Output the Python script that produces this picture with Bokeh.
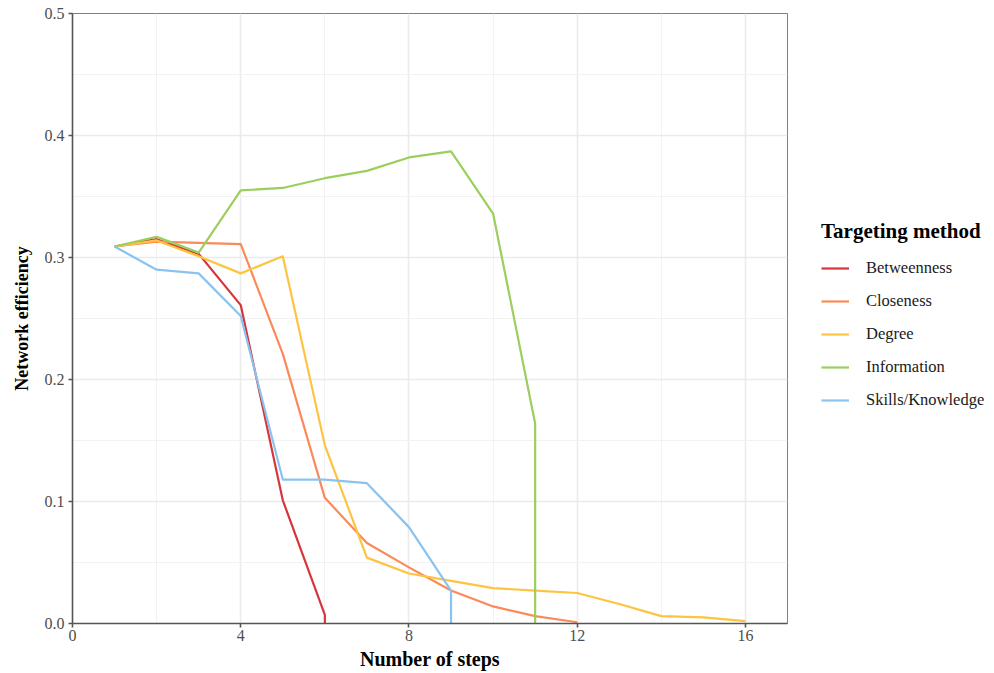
from bokeh.plotting import figure
from bokeh.layouts import row
from bokeh.models import (Range1d, FixedTicker, Legend, LegendItem,
                          PrintfTickFormatter, ColumnDataSource)
from bokeh.embed import file_html
from bokeh.resources import INLINE

# Network efficiency after each removal step, by targeting method
betweenness_steps = [1, 2, 3, 4, 5, 6, 6]
betweenness_eff = [0.309, 0.315, 0.303, 0.261, 0.101, 0.007, 0.0]

closeness_steps = [1, 2, 3, 4, 5, 6, 7, 8, 9, 10, 11, 12]
closeness_eff = [0.309, 0.313, 0.312, 0.311, 0.221, 0.103, 0.066, 0.046,
                 0.027, 0.014, 0.006, 0.001]

degree_steps = [1, 2, 3, 4, 5, 6, 7, 8, 9, 10, 11, 12, 13, 14, 15, 16]
degree_eff = [0.309, 0.314, 0.301, 0.287, 0.301, 0.146, 0.054, 0.041,
              0.035, 0.029, 0.027, 0.025, 0.016, 0.006, 0.005, 0.002]

information_steps = [1, 2, 3, 4, 5, 6, 7, 8, 9, 10, 11, 11]
information_eff = [0.309, 0.317, 0.304, 0.355, 0.357, 0.365, 0.371, 0.382,
                   0.387, 0.336, 0.164, 0.0]

skills_steps = [1, 2, 3, 4, 5, 6, 7, 8, 9, 9]
skills_eff = [0.309, 0.290, 0.287, 0.252, 0.118, 0.118, 0.115, 0.079,
              0.027, 0.0]

method_names = ["Betweenness", "Closeness", "Degree", "Information",
                "Skills/Knowledge"]
method_colors = ["#d6363b", "#fb8a5a", "#fec340", "#9bcf5c", "#8ac3ef"]

x_ticks = [0, 4, 8, 12, 16]
x_minor = [2, 6, 10, 14]
y_ticks = [0.0, 0.1, 0.2, 0.3, 0.4, 0.5]
y_minor = [0.05, 0.15, 0.25, 0.35, 0.45]

SERIF = "Liberation Serif"

p = figure(width=790, height=673, output_backend="svg", toolbar_location=None,
           x_range=Range1d(0, 17), y_range=Range1d(0, 0.5),
           min_border_left=72, min_border_right=3,
           min_border_top=13, min_border_bottom=50)

p.background_fill_color = "white"
p.border_fill_color = "white"
p.outline_line_color = "#808080"
p.outline_line_width = 1

# grid
p.xaxis.ticker = FixedTicker(ticks=x_ticks, minor_ticks=x_minor)
p.yaxis.ticker = FixedTicker(ticks=y_ticks, minor_ticks=y_minor)
for g in (p.xgrid, p.ygrid):
    g.grid_line_color = "#ebebeb"
    g.grid_line_width = 1.6
    g.minor_grid_line_color = "#f2f2f2"
    g.minor_grid_line_width = 1.1

# axes
p.yaxis.formatter = PrintfTickFormatter(format="%.1f")
for ax in (p.xaxis, p.yaxis):
    ax.axis_line_color = "#555555"
    ax.axis_line_width = 1.6
    ax.major_tick_line_color = "#555555"
    ax.major_tick_line_width = 1.6
    ax.major_tick_out = 4
    ax.major_tick_in = 0
    ax.minor_tick_line_color = None
    ax.major_label_text_font = SERIF
    ax.major_label_text_font_size = "16px"
    ax.major_label_text_color = "#4d4d4d"
    ax.axis_label_text_font = SERIF
    ax.axis_label_text_font_style = "bold"
    ax.axis_label_text_color = "black"

p.xaxis.axis_label = "Number of steps"
p.yaxis.axis_label = "Network efficiency"
p.xaxis.axis_label_text_font_size = "20px"
p.yaxis.axis_label_text_font_size = "18px"
p.xaxis.major_label_standoff = 2
p.xaxis.axis_label_standoff = 4
p.yaxis.major_label_standoff = 4
p.yaxis.axis_label_standoff = 10

series = [
    (betweenness_steps, betweenness_eff),
    (closeness_steps, closeness_eff),
    (degree_steps, degree_eff),
    (information_steps, information_eff),
    (skills_steps, skills_eff),
]

for (xs, ys), color in zip(series, method_colors):
    src = ColumnDataSource(dict(x=xs, y=ys))
    p.line("x", "y", source=src, line_color=color, line_width=2.2,
           line_join="round")

# separate panel holding the legend on the right
lg = figure(width=204, height=673, output_backend="svg", toolbar_location=None,
            x_range=Range1d(0, 1), y_range=Range1d(0, 1),
            min_border_left=0, min_border_right=0,
            min_border_top=0, min_border_bottom=0)
lg.axis.visible = False
lg.grid.visible = False
lg.outline_line_color = None
lg.background_fill_color = "white"
lg.border_fill_color = "white"

items = []
for name, color in zip(method_names, method_colors):
    # placeholder line kept outside the visible range; only its key is shown
    r = lg.line(x=[-5, -4], y=[-5, -4], line_color=color, line_width=2.2)
    items.append(LegendItem(label=name, renderers=[r]))

legend = Legend(items=items, location=(31, 213),
                title="Targeting method",
                title_text_font=SERIF, title_text_font_size="21px",
                title_text_font_style="bold", title_text_color="black",
                title_standoff=14,
                label_text_font=SERIF, label_text_font_size="16.5px",
                label_text_color="#1a1a1a",
                glyph_width=28, glyph_height=20, label_height=20,
                label_standoff=17, spacing=13,
                padding=3, margin=0,
                border_line_color=None, background_fill_alpha=0)
lg.add_layout(legend, "center")

layout = row(p, lg)
open("out.html", "w").write(file_html(layout, INLINE))
